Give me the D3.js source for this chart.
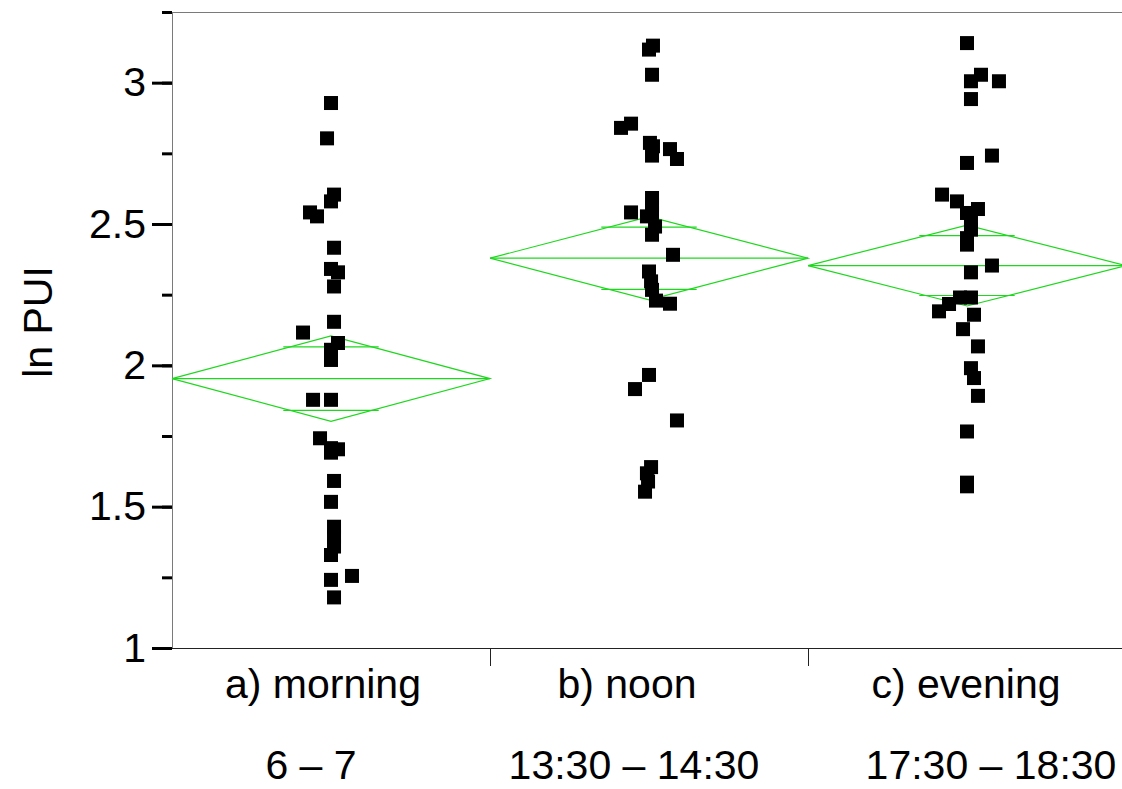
<!DOCTYPE html>
<html>
<head>
<meta charset="utf-8">
<script src="https://cdn.jsdelivr.net/npm/d3@7"></script>
<style>
  body { margin: 0; background: #fff; }
  svg { display: block; font-family: 'Liberation Sans', Arial, Helvetica, sans-serif; }
</style>
</head>
<body>
<script>
const categories = ['a) morning', 'b) noon', 'c) evening'];
const timeLabels = ['6 – 7', '13:30 – 14:30', '17:30 – 18:30'];

// ln PUI per sample
const morningPUI = [2.928, 2.803, 2.604, 2.580, 2.541, 2.527, 2.416, 2.341, 2.329, 2.279,
  2.154, 2.116, 2.079, 2.055, 2.019, 1.878, 1.878, 1.742, 1.707, 1.703,
  1.691, 1.591, 1.517, 1.429, 1.394, 1.359, 1.329, 1.241, 1.255, 1.179];
const noonPUI = [3.131, 3.117, 3.028, 2.840, 2.855, 2.787, 2.775, 2.742, 2.765, 2.730,
  2.592, 2.568, 2.541, 2.527, 2.539, 2.491, 2.462, 2.391, 2.332, 2.297,
  2.267, 2.229, 2.218, 1.966, 1.916, 1.805, 1.640, 1.618, 1.589, 1.553];
const eveningPUI = [3.140, 3.028, 3.005, 3.005, 2.942, 2.742, 2.716, 2.604, 2.580, 2.553,
  2.539, 2.509, 2.480, 2.450, 2.427, 2.353, 2.329, 2.240, 2.240, 2.217,
  2.191, 2.179, 2.128, 2.067, 1.990, 1.955, 1.892, 1.766, 1.585, 1.572];

// horizontal jitter, as a fraction of half a category band
const morningJitter = [0, -0.025, 0.019, 0, -0.132, -0.088, 0.019, 0, 0.044, 0.019,
  0.019, -0.176, 0.044, 0, 0, -0.113, 0, -0.069, 0, 0.044,
  0, 0.019, 0, 0.019, 0.019, 0.019, 0, 0, 0.132, 0.019];
const noonJitter = [0.025, 0, 0.019, -0.176, -0.113, 0.006, 0.025, 0.019, 0.132, 0.176,
  0.019, 0.019, -0.113, -0.013, 0.019, 0.038, 0.019, 0.151, 0, 0.013,
  0.019, 0.044, 0.132, 0, -0.088, 0.176, 0.013, -0.013, -0.006, -0.025];
const eveningJitter = [0, 0.088, 0.025, 0.201, 0.025, 0.157, 0, -0.157, -0.063, 0.069,
  0, 0.025, 0.025, 0, 0, 0.157, 0.025, -0.044, 0.025, -0.113,
  -0.176, 0.044, -0.025, 0.069, 0.025, 0.044, 0.069, 0, 0, 0];

// means diamonds
const groupMeans = [1.953, 2.379, 2.353];
const ciHalf = [0.151, 0.147, 0.143];
const overlapHalf = [0.112, 0.110, 0.106];

const yTicks = [1, 1.5, 2, 2.5, 3];
const yMinorTicks = [1.25, 1.5, 1.75, 2, 2.25, 2.5, 2.75, 3, 3.25];

const width = 1122;
const height = 789;
const margin = { left: 172, top: 12, bottom: 141 };
const plotBottom = height - margin.bottom;
const labelShift = [-8, -22, -1];
const timeShift = [-20, -15, 24];

const svg = d3.select('body')
  .append('svg')
  .attr('id', 'chart')
  .attr('width', width)
  .attr('height', height);

const x = d3.scaleBand()
  .domain(categories)
  .range([margin.left, margin.left + 3 * 318]);

const y = d3.scaleLinear()
  .domain([1, 3.25])
  .range([plotBottom, margin.top]);

const half = x.bandwidth() / 2;
const cx = c => x(c) + half;

const groups = [morningPUI, noonPUI, eveningPUI];
const jitters = [morningJitter, noonJitter, eveningJitter];
const points = groups.flatMap((vals, g) => vals.map((v, i) => ({
  cat: categories[g],
  value: v,
  jitter: jitters[g][i],
})));

// frame
svg.append('line')
  .attr('x1', margin.left).attr('x2', width)
  .attr('y1', margin.top + 0.5).attr('y2', margin.top + 0.5)
  .attr('stroke', '#7a7a7a');

svg.append('line')
  .attr('x1', margin.left).attr('x2', width)
  .attr('y1', plotBottom + 0.5).attr('y2', plotBottom + 0.5)
  .attr('stroke', '#222');

// separators between categories
svg.selectAll('line.sep')
  .data(categories.slice(0, 2))
  .enter()
  .append('line')
  .attr('class', 'sep')
  .attr('x1', d => x(d) + x.bandwidth() + 0.5)
  .attr('x2', d => x(d) + x.bandwidth() + 0.5)
  .attr('y1', plotBottom)
  .attr('y2', plotBottom + 18)
  .attr('stroke', '#222');

// y axis
const minorAxis = d3.axisLeft(y)
  .tickValues(yMinorTicks)
  .tickSize(10)
  .tickFormat('');

const majorAxis = d3.axisLeft(y)
  .tickValues(yTicks)
  .tickSize(20)
  .tickPadding(6)
  .tickFormat(d3.format('~g'));

svg.append('g')
  .attr('transform', `translate(${margin.left}, 0)`)
  .call(minorAxis)
  .call(g => g.select('.domain').remove())
  .call(g => g.selectAll('.tick line').attr('stroke', '#000').attr('stroke-width', 3));

svg.append('g')
  .attr('transform', `translate(${margin.left}, 0)`)
  .call(majorAxis)
  .call(g => g.select('.domain').remove())
  .call(g => g.selectAll('.tick line').attr('stroke', '#000').attr('stroke-width', 3))
  .call(g => g.selectAll('.tick text')
    .attr('fill', '#000')
    .style('font-size', '41px')
    .style('font-family', "'Liberation Sans', Arial, sans-serif"));

svg.append('line')
  .attr('x1', margin.left + 0.5).attr('x2', margin.left + 0.5)
  .attr('y1', margin.top).attr('y2', plotBottom)
  .attr('stroke', '#7a7a7a');

svg.append('text')
  .attr('transform', `translate(52, 322) rotate(-90)`)
  .attr('text-anchor', 'middle')
  .style('font-size', '41px')
  .text('ln PUI');

// category labels
svg.selectAll('text.cat')
  .data(categories)
  .enter()
  .append('text')
  .attr('class', 'cat')
  .attr('x', (d, i) => cx(d) + labelShift[i])
  .attr('y', 698)
  .attr('text-anchor', 'middle')
  .style('font-size', '41px')
  .text(d => d);

svg.selectAll('text.time')
  .data(timeLabels)
  .enter()
  .append('text')
  .attr('class', 'time')
  .attr('x', (d, i) => cx(categories[i]) + timeShift[i])
  .attr('y', 779)
  .attr('text-anchor', 'middle')
  .style('font-size', '41px')
  .text(d => d);

// means diamonds
const green = '#1ed81e';
const diamonds = svg.append('g')
  .attr('fill', 'none')
  .attr('stroke', green)
  .attr('stroke-width', 1.2);

categories.forEach((c, i) => {
  const x0 = x(c);
  const x1 = x(c) + x.bandwidth();
  const m = groupMeans[i];
  diamonds.append('path')
    .attr('d', d3.line()([
      [x0, y(m)], [cx(c), y(m + ciHalf[i])], [x1, y(m)], [cx(c), y(m - ciHalf[i])], [x0, y(m)],
    ]));
  diamonds.append('line')
    .attr('x1', x0).attr('x2', x1)
    .attr('y1', y(m)).attr('y2', y(m));
  [m + overlapHalf[i], m - overlapHalf[i]].forEach(v => {
    diamonds.append('line')
      .attr('x1', cx(c) - 0.3 * half).attr('x2', cx(c) + 0.3 * half)
      .attr('y1', y(v)).attr('y2', y(v));
  });
});

// samples
const size = 14;
svg.append('g')
  .selectAll('rect')
  .data(points)
  .enter()
  .append('rect')
  .attr('x', d => cx(d.cat) + d.jitter * half - size / 2)
  .attr('y', d => y(d.value) - size / 2)
  .attr('width', size)
  .attr('height', size)
  .attr('fill', '#000');
</script>
</body>
</html>
